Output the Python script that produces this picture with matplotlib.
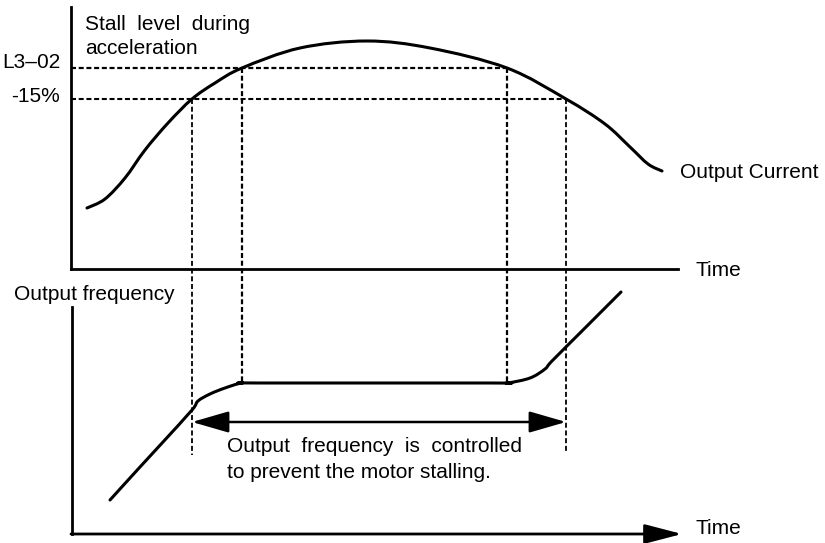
import matplotlib
matplotlib.use("Agg")
from matplotlib import pyplot as plt
from matplotlib.patches import FancyArrowPatch, PathPatch
from matplotlib.path import Path

# canvas units: x = time position, y = height on the sheet (down is positive)
# stall level marks on the current trace
stall_level = 68      # L3-02
stall_minus15 = 99    # -15 %
# times where the current crosses the two levels
t_cross = [192, 242, 507, 566]

# output current during acceleration
current_t = [87, 105, 125, 145, 168, 192, 215, 242, 300, 367, 430, 507, 566, 605, 630, 648, 662]
current_y = [208, 199, 178, 150, 123, 99, 83, 68, 48, 41, 48, 68, 99, 124, 147, 164, 171]

# output frequency: ramp, hold while stalled, ramp again
freq_t = [110, 140, 163, 192, 198, 210, 225, 242, 260, 490, 507, 530, 545, 552, 585, 621]
freq_y = [500, 467, 442, 410, 401, 394, 388, 383, 383, 383, 383, 378, 369, 361, 328, 292]

# axes frames
top_axis_x, top_axis_top, top_axis_y, top_axis_end = 71, 7, 269, 678
bot_axis_x, bot_axis_top, bot_axis_y, bot_axis_end = 72, 307, 534, 682


def smooth_path(xs, ys):
    # Catmull-Rom through the points, drawn as cubic Bezier segments
    pts = list(zip(xs, ys))
    verts = [pts[0]]
    codes = [Path.MOVETO]
    n = len(pts)
    for i in range(n - 1):
        p0 = pts[i - 1] if i > 0 else pts[i]
        p1 = pts[i]
        p2 = pts[i + 1]
        p3 = pts[i + 2] if i + 2 < n else pts[i + 1]
        c1 = (p1[0] + (p2[0] - p0[0]) / 6, p1[1] + (p2[1] - p0[1]) / 6)
        c2 = (p2[0] - (p3[0] - p1[0]) / 6, p2[1] - (p3[1] - p1[1]) / 6)
        verts += [c1, c2, p2]
        codes += [Path.CURVE4] * 3
    return Path(verts, codes)


def dashed(width):
    # dash of ~5 px and gap of ~2.7 px whatever the line width
    return dict(color="black", lw=width, linestyle=(0, (3.6 / width, 1.95 / width)))


plt.rcParams['font.family'] = ['Liberation Sans', 'DejaVu Sans']
fs = 15

fig = plt.figure(figsize=(8.25, 5.43), dpi=100)
ax = fig.add_axes([0, 0, 1, 1])
ax.set_xlim(0, 825)
ax.set_ylim(543, 0)
ax.axis("off")

lw = 2.0
# top panel axes
ax.plot([top_axis_x, top_axis_x], [top_axis_top, top_axis_y], color="black", lw=lw)
ax.plot([top_axis_x, top_axis_end], [top_axis_y, top_axis_y], color="black", lw=lw)
# bottom panel axes with arrow on time
ax.plot([bot_axis_x, bot_axis_x], [bot_axis_top, bot_axis_y], color="black", lw=lw)
ax.annotate("", xy=(bot_axis_end, bot_axis_y), xytext=(bot_axis_x - 1, bot_axis_y),
            arrowprops=dict(arrowstyle="-|>,head_length=2.3,head_width=0.6",
                            color="black", lw=lw, shrinkA=0, shrinkB=0))

# curves
for xs, ys in [(current_t, current_y), (freq_t, freq_y)]:
    ax.add_patch(PathPatch(smooth_path(xs, ys), facecolor="none", edgecolor="black",
                           lw=2.2, capstyle="round", joinstyle="round"))

# dashed guides
ax.plot([top_axis_x, t_cross[2]], [stall_level, stall_level], **dashed(1.6))
ax.plot([top_axis_x, t_cross[3]], [stall_minus15, stall_minus15], **dashed(1.5))
ax.plot([t_cross[0], t_cross[0]], [stall_minus15, 455], **dashed(1.3))
ax.plot([t_cross[1], t_cross[1]], [stall_level, freq_y[7]], **dashed(1.6))
ax.plot([t_cross[2], t_cross[2]], [stall_level, freq_y[10]], **dashed(1.6))
ax.plot([t_cross[3], t_cross[3]], [stall_minus15, 453], **dashed(1.3))

# span where frequency is held
arrow_y = 422
ax.add_patch(FancyArrowPatch((t_cross[0], arrow_y), (t_cross[3], arrow_y),
                             arrowstyle="<|-|>,head_length=1.9,head_width=0.55",
                             color="black", lw=1.8, shrinkA=0, shrinkB=0,
                             mutation_scale=12))

# labels
ax.text(85, 25, "Stall  level  during", fontsize=fs, va="center", ha="left")
ax.text(85, 48, "acceleration", fontsize=fs, va="center", ha="left")
ax.text(60, 62, "L3–02", fontsize=fs, va="center", ha="right")
ax.text(60, 97, "-15%", fontsize=fs, va="center", ha="right")
ax.text(680, 172, "Output Current", fontsize=fs, va="center", ha="left")
ax.text(695, 270, "Time", fontsize=fs, va="center", ha="left")
ax.text(14, 295, "Output frequency", fontsize=fs, va="center", ha="left")
ax.text(227, 447, "Output  frequency  is  controlled", fontsize=fs, va="center", ha="left")
ax.text(227, 472, "to prevent the motor stalling.", fontsize=fs, va="center", ha="left")
ax.text(695, 529, "Time", fontsize=fs, va="center", ha="left")

fig.savefig("out.png", dpi=100)
